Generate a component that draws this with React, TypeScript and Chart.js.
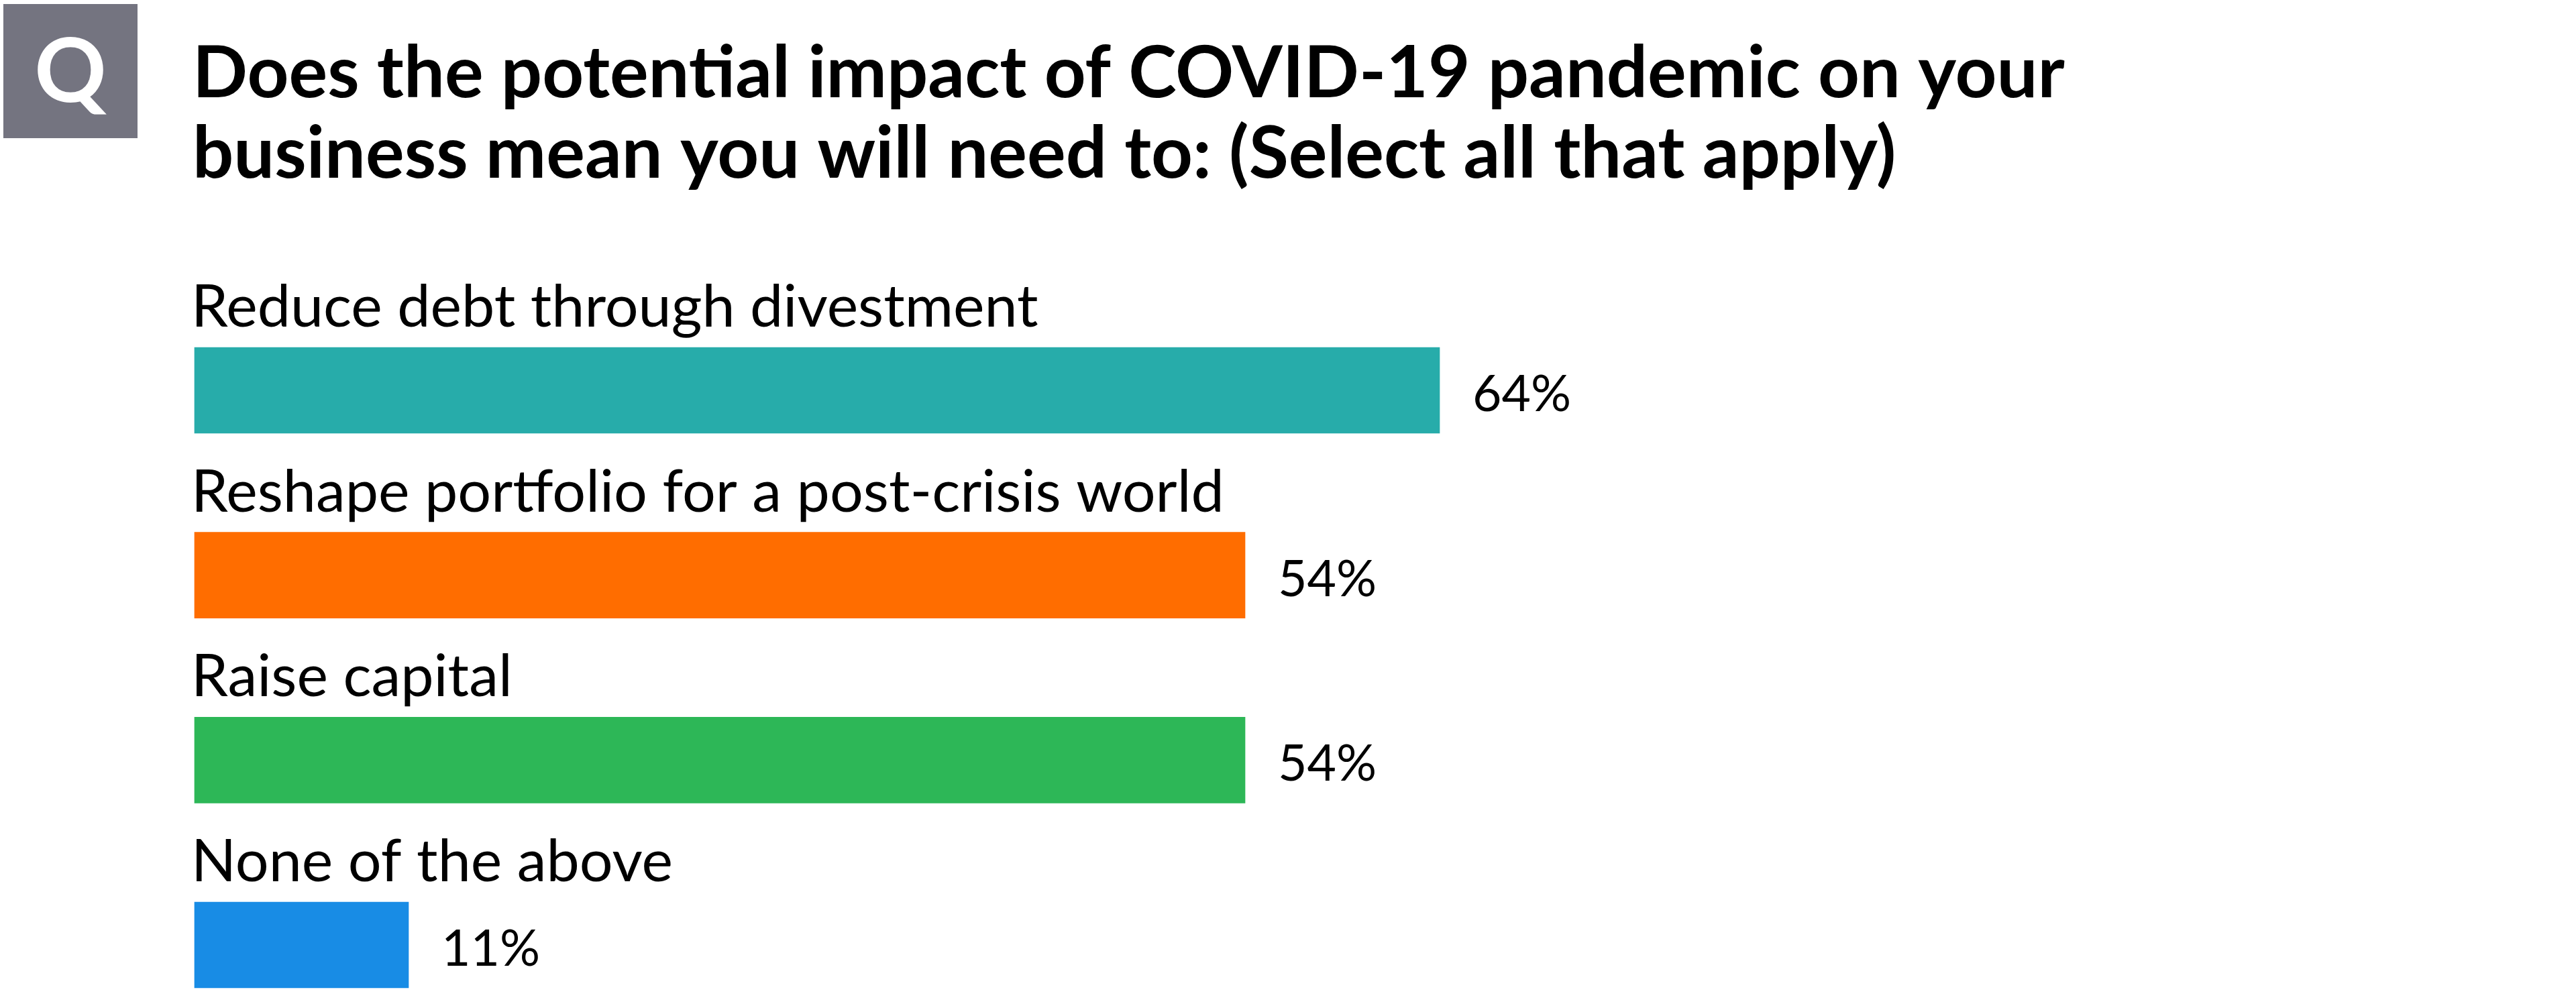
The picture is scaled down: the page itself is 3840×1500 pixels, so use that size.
import { useEffect, useRef } from "react";
import { Chart, registerables } from "chart.js";

Chart.register(...registerables);

const titleLines = [
  "Does the potential impact of COVID-19 pandemic on your",
  "business mean you will need to: (Select all that apply)",
];
const categories = [
  "Reduce debt through divestment",
  "Reshape portfolio for a post-crisis world",
  "Raise capital",
  "None of the above",
];
const values = [64, 54, 54, 11];
const valueLabels = ["64%", "54%", "54%", "11%"];
const barColors = ["#27ACAA", "#FF6D00", "#2DB757", "#188CE5"];

const FONT = "Lato";

const annotations = {
  id: "annotations",
  afterDraw(chart: any) {
    const ctx = chart.ctx as CanvasRenderingContext2D;
    ctx.save();
    // Q badge
    ctx.fillStyle = "#747480";
    ctx.fillRect(5, 6, 200, 200);
    ctx.fillStyle = "#ffffff";
    ctx.font = `bold 133px ${FONT}`;
    ctx.textAlign = "center";
    ctx.textBaseline = "alphabetic";
    ctx.fillText("Q", 105, 152);

    // Title
    ctx.fillStyle = "#000000";
    ctx.textAlign = "left";
    ctx.font = `bold 108px ${FONT}`;
    titleLines.forEach((line, i) => ctx.fillText(line, 287, 145 + i * 120));

    // Category + value labels
    const meta = chart.getDatasetMeta(0);
    meta.data.forEach((bar: any, i: number) => {
      const p = bar.getProps(["x", "y", "base", "height"], true);
      ctx.fillStyle = "#000000";
      ctx.font = `88px ${FONT}`;
      ctx.fillText(categories[i], p.base - 5, p.y - p.height / 2 - 31);
      ctx.font = `75px ${FONT}`;
      ctx.fillText(valueLabels[i], p.x + 49, p.y + 31);
    });
    ctx.restore();
  },
};

export default function App() {
  const ref = useRef<HTMLCanvasElement | null>(null);

  useEffect(() => {
    let chart: Chart | null = null;
    let cancelled = false;
    const make = () => {
      if (cancelled || !ref.current) return;
      chart = new Chart(ref.current, {
        type: "bar",
        data: {
          labels: categories,
          datasets: [
            {
              data: values,
              backgroundColor: barColors,
              borderWidth: 0,
              barThickness: 128,
              clip: false as any,
            },
          ],
        },
        options: {
          indexAxis: "y",
          responsive: false,
          animation: false,
          layout: { padding: { left: 290, right: 650, top: 582, bottom: 91 } },
          scales: {
            x: { display: false, min: 0, max: 100 },
            y: { display: false, offset: false },
          },
          plugins: {
            legend: { display: false },
            tooltip: { enabled: false },
            title: { display: false },
          },
        },
        plugins: [annotations],
      });
    };
    Promise.all([
      document.fonts.load(`bold 108px ${FONT}`),
      document.fonts.load(`88px ${FONT}`),
    ])
      .catch(() => {})
      .then(make);
    return () => {
      cancelled = true;
      if (chart) chart.destroy();
    };
  }, []);

  return (
    <div style={{ position: "fixed", left: 0, top: 0, width: 3840, height: 1500, background: "#ffffff" }}>
      <canvas ref={ref} width={3840} height={1500} style={{ display: "block", width: 3840, height: 1500 }} />
    </div>
  );
}
